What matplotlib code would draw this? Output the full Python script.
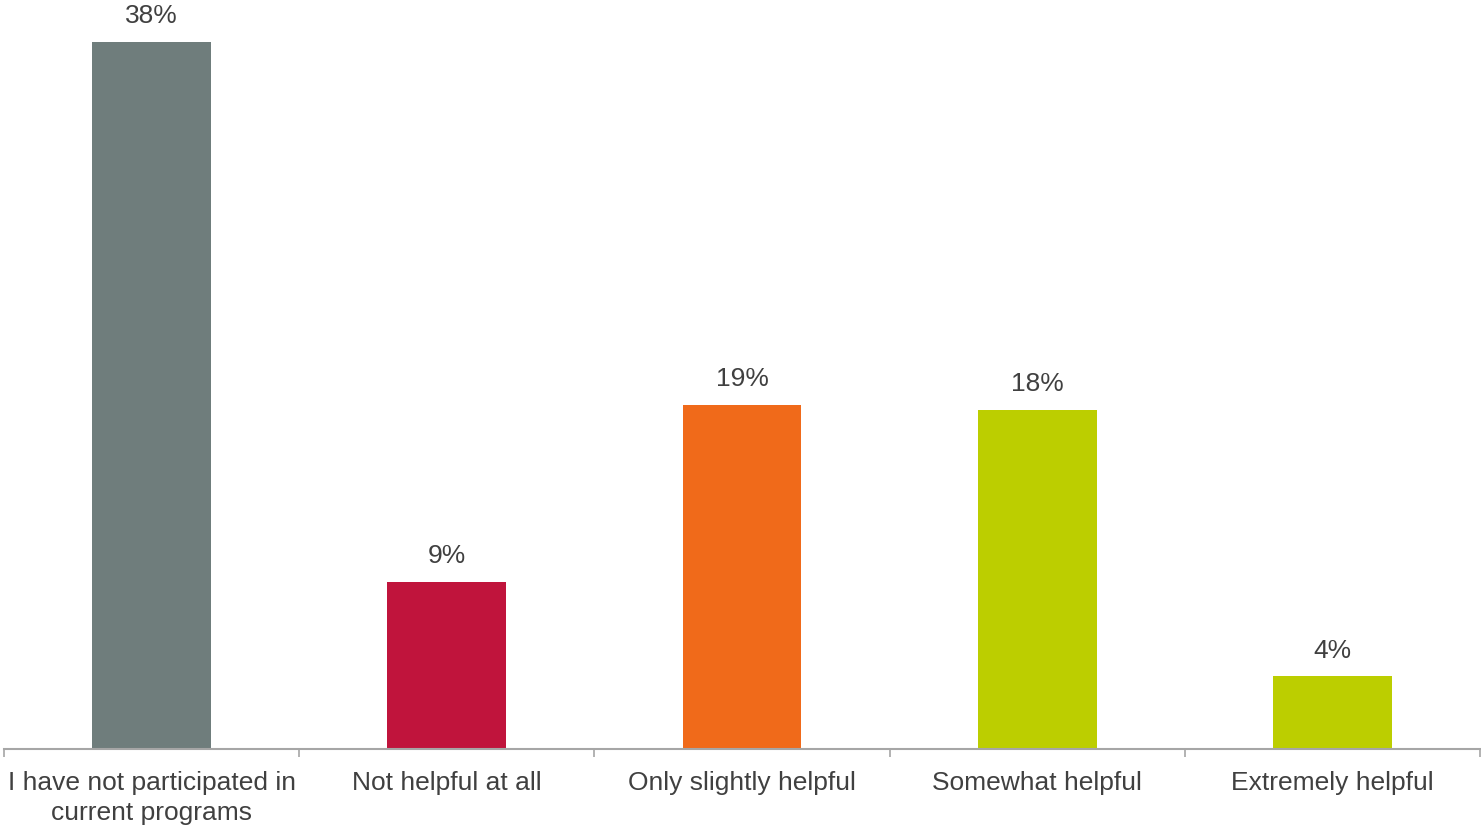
import matplotlib.pyplot as plt

plt.rcParams["font.family"] = ["Liberation Sans", "DejaVu Sans"]

categories = [
    "I have not participated in\ncurrent programs",
    "Not helpful at all",
    "Only slightly helpful",
    "Somewhat helpful",
    "Extremely helpful",
]
values = [38.0, 9.0, 18.5, 18.2, 3.9]
labels = ["38%", "9%", "19%", "18%", "4%"]
colors = ["#6F7D7C", "#C0143C", "#F06A1A", "#BCCE00", "#BCCE00"]

fig = plt.figure(figsize=(14.81, 8.26), dpi=100)
ax = fig.add_axes([4 / 1481, 77 / 826, 1476 / 1481, 749 / 826])

x = list(range(len(categories)))
bars = ax.bar(x, values, width=0.403, color=colors)
for bar, lab in zip(bars, labels):
    ax.annotate(lab, (bar.get_x() + bar.get_width() / 2, bar.get_height()),
                xytext=(0, 10), textcoords="offset points",
                ha="center", va="bottom", fontsize=19, color="#404040")

ax.set_xlim(-0.5, len(categories) - 0.5)
ax.set_ylim(0, 38 * 749 / 707)
ax.set_yticks([])
for side in ["top", "right", "left"]:
    ax.spines[side].set_visible(False)
ax.spines["bottom"].set_color("#A6A6A6")
ax.spines["bottom"].set_linewidth(1.5)

ax.set_xticks([i - 0.5 for i in range(len(categories) + 1)], minor=False)
ax.set_xticklabels([])
ax.tick_params(axis="x", which="major", length=6, color="#A6A6A6", width=1.2)
ax.set_xticks(x, minor=True)
ax.set_xticklabels(categories, minor=True, fontsize=19, color="#404040",
                   linespacing=1.3)
ax.tick_params(axis="x", which="minor", length=0, pad=16)

fig.savefig("out.png", dpi=100)
